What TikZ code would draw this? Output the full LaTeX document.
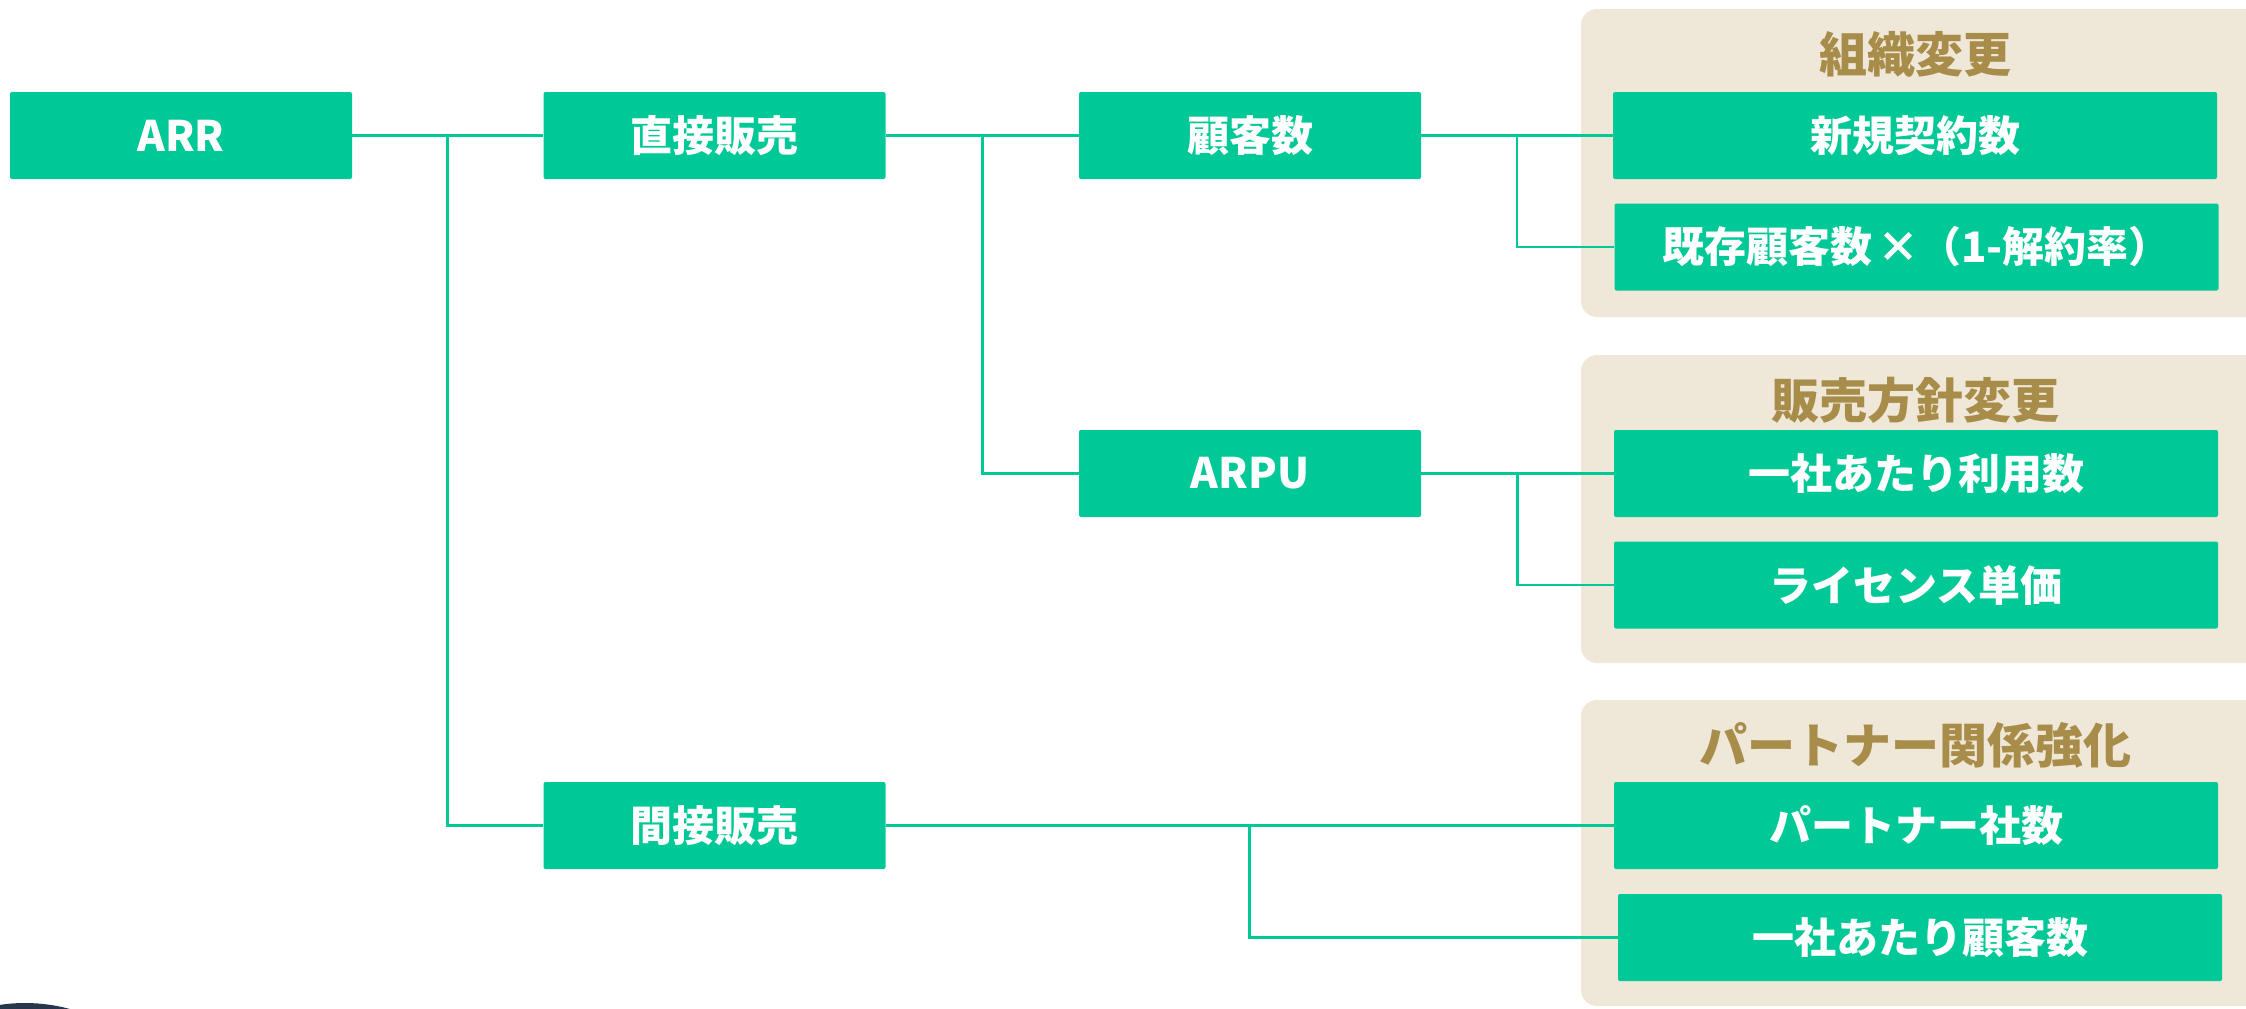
\documentclass[tikz,border=0pt]{standalone}
\usepackage{fontspec}
\setmainfont{Noto Sans CJK JP}
\usetikzlibrary{calc}
\definecolor{grn}{HTML}{00C896}
\definecolor{beige}{HTML}{EFE8D8}
\definecolor{gold}{HTML}{A88C4A}
\definecolor{navy}{HTML}{27364A}
\tikzset{
  box/.style={fill=grn, text=white, rounded corners=1pt, minimum width=171pt,
    minimum height=43.5pt, inner sep=0pt, font=\fontsize{21}{25}\selectfont\bfseries},
  widebox/.style={box, minimum width=302pt},
  grp/.style={fill=beige, rounded corners=8pt},
  grptitle/.style={text=gold, inner sep=0pt, font=\fontsize{24}{28}\selectfont\bfseries},
  conn/.style={draw=grn, line width=1.35pt}
}
\begin{document}
\begin{tikzpicture}[x=0.5pt, y=-0.5pt]
\useasboundingbox (0,0) rectangle (2246,1008);
\clip (0,0) rectangle (2246,1008);

% group panels on the right
\fill[grp] (1581,9) rectangle (2270,317);
\fill[grp] (1581,355) rectangle (2270,663);
\fill[grp] (1581,700) rectangle (2270,1006);

% partial dark shape at the lower left corner
\fill[navy] (25,1173) circle[radius=170];

% tree nodes
\node[box] (arr) at (181,135.5) {ARR};
\node[box] (ds) at (714.5,135.5) {直接販売};
\node[box] (ids) at (714.5,825.5) {間接販売};
\node[box] (cust) at (1250,135.5) {顧客数};
\node[box] (arpu) at (1250,473.5) {ARPU};

\node[widebox] (newc) at (1915,135.5) {新規契約数};
\node[widebox] (exist) at (1916.5,247) {既存顧客数\hspace{0.12em}×（1-解約率）};
\node[widebox] (usage) at (1916,473.5) {一社あたり利用数};
\node[widebox] (price) at (1916,585) {ライセンス単価};
\node[widebox] (pcount) at (1916,825.5) {パートナー社数};
\node[widebox] (pcust) at (1920,937.5) {一社あたり顧客数};

% group titles
\node[grptitle] (t1) at (1915,54) {組織変更};
\node[grptitle] (t2) at (1915,400) {販売方針変更};
\node[grptitle] (t3) at (1915,745) {パートナー関係強化};

% connectors
\draw[conn]
  (arr.east) -- (ds.west)
  ($(arr.east)!.5!(ds.west)$) |- (ids.west)
  (ds.east) -- (cust.west)
  ($(ds.east)!.5!(cust.west)$) |- (arpu.west)
  (cust.east) -- (newc.west)
  ($(cust.east)!.5!(newc.west)$) |- (exist.west)
  (arpu.east) -- (usage.west)
  ($(arpu.east)!.5!(usage.west)$) |- (price.west)
  (ids.east) -- (pcount.west)
  ($(ids.east)!.5!(pcount.west)$) |- (pcust.west);
\end{tikzpicture}
\end{document}
